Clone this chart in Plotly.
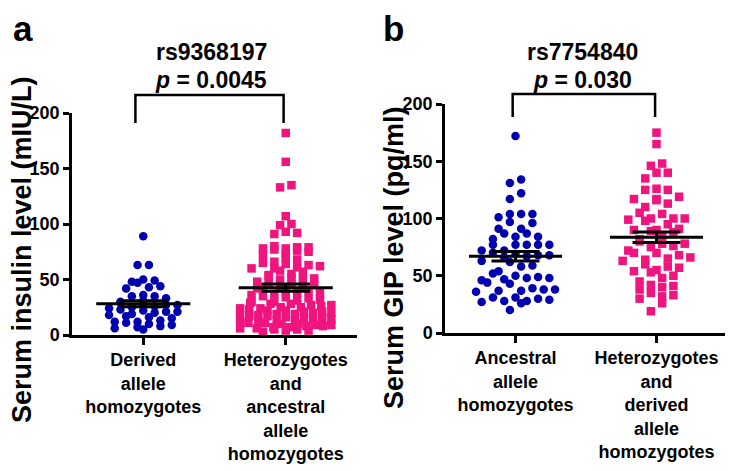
import numpy as np
import plotly.graph_objects as go

# ---------------- data ----------------
categories_a = ["Derived<br>allele<br>homozygotes",
                "Heterozygotes<br>and<br>ancestral<br>allele<br>homozygotes"]
categories_b = ["Ancestral<br>allele<br>homozygotes",
                "Heterozygotes<br>and<br>derived<br>allele<br>homozygotes"]

insulin_derived = [89, 63, 63, 50, 49, 47, 48, 44, 42, 43, 36, 35, 35, 33, 31, 30, 29, 28,
                   27, 27, 26, 25, 24, 23, 22, 21, 21, 20, 19, 18, 17, 16, 15, 13, 12, 12,
                   11, 10, 9, 8, 7, 6, 5]
insulin_het_anc = [182, 156, 135, 133, 107, 100, 99, 93, 92, 91,
                   80, 79, 79, 78, 78, 77, 76, 75, 73, 72, 70, 68,
                   66, 65, 64, 63, 62, 61, 60, 60,
                   58, 57, 55, 54, 53, 52, 51, 50, 50,
                   48, 47, 46, 45, 44, 43, 42, 41, 40, 40,
                   39, 38, 37, 36, 35, 34, 33, 32, 31, 30, 30,
                   29, 28, 27, 26, 25, 24, 23, 22, 21, 20, 20, 21,
                   19, 18, 17, 16, 15, 14, 13, 12, 11, 10, 10, 12,
                   9, 8, 7, 6, 5, 4, 3, 9, 7, 5,
                   25, 22, 18, 15, 14, 11, 8, 6, 4, 27, 24, 17, 13, 28, 19]
gip_ancestral = [172, 134, 131, 122, 117, 104, 104, 104, 101, 97, 96, 91, 91, 87, 87, 84,
                 84, 82, 77, 77, 77, 77, 77, 72, 72, 70, 69, 68, 68, 67, 66, 63, 62, 59,
                 58, 54, 52, 50, 49, 48, 48, 47, 46, 44, 43, 39, 38, 38, 37, 37, 36, 31,
                 30, 29, 28, 28, 27, 26, 31, 20]
gip_het_der = [175, 165, 148, 146, 140, 140, 135, 126, 125, 125, 119, 117, 117, 116, 113,
               110, 105, 104, 100, 100, 100, 99, 98, 95, 91, 90, 90, 89, 88, 85, 82, 80,
               78, 78, 76, 75, 72, 70, 70, 68, 66, 65, 64, 63, 60, 58, 57, 55, 54, 53, 50,
               48, 45, 42, 41, 40, 38, 35, 33, 32, 30, 26, 19]

y_ticks = [0, 50, 100, 150, 200]
snp_a, p_a = "rs9368197", "0.0045"
snp_b, p_b = "rs7754840", "0.030"
ytitle_a = "Serum insulin level (mIU/L)"
ytitle_b = "Serum GIP level (pg/ml)"

BLUE = "#0000B0"
PINK = "#F0147F"
FONT = "Arial, Liberation Sans, sans-serif"
W, H = 733, 471
OFF = 8  # the page body adds an 8 px margin; lay out in target-picture pixels


def fx(p):
    return (p - OFF) / W


def fy(p):
    return 1 - (p - OFF) / H


DOM_XA = [fx(72), fx(357)]
DOM_YA = [fy(335), fy(113)]
DOM_XB = [fx(445), fx(727)]
DOM_YB = [fy(333), fy(104)]
XR = [-0.5, 1.5]


def swarm_offsets(vals, bin_w, step, max_half):
    """Deterministic Prism-like column scatter: bin by value, spread each bin."""
    vals = np.asarray(vals, float)
    bins = np.floor(vals / bin_w).astype(int)
    offs = np.zeros(len(vals))
    for b in np.unique(bins):
        idx = np.where(bins == b)[0]
        idx = idx[np.argsort(vals[idx], kind="stable")]
        n = len(idx)
        s = step if n < 2 or (n - 1) * step / 2 <= max_half else 2 * max_half / (n - 1)
        pos = [(k - (n - 1) / 2) * s for k in range(n)]
        order = list(range(0, n, 2)) + list(range(1, n, 2))[::-1]
        for k, i in zip(order, idx):
            offs[i] = pos[k]
    return offs


fig = go.Figure()


def add_group(vals, center, symbol, color, xa, ya, bin_w, max_half):
    vals = np.asarray(vals, float)
    x = center + swarm_offsets(vals, bin_w, 0.08, max_half)
    fig.add_trace(go.Scatter(x=x, y=vals, mode="markers", xaxis=xa, yaxis=ya,
                             marker=dict(symbol=symbol, size=8.5, color=color,
                                         line=dict(width=0)),
                             cliponaxis=False, hoverinfo="y", showlegend=False))
    m = vals.mean()
    sem = vals.std(ddof=1) / np.sqrt(len(vals))
    line = dict(color="black", width=3)
    for xs, ys in [([center - 0.33, center + 0.33], [m, m]),
                   ([center - 0.17, center + 0.17], [m + sem, m + sem]),
                   ([center - 0.17, center + 0.17], [m - sem, m - sem]),
                   ([center, center], [m - sem, m + sem])]:
        fig.add_trace(go.Scatter(x=xs, y=ys, mode="lines", line=line, xaxis=xa, yaxis=ya,
                                 hoverinfo="skip", showlegend=False, cliponaxis=False))


add_group(insulin_derived, 0, "circle", BLUE, "x", "y", 6, 0.27)
add_group(insulin_het_anc, 1, "square", PINK, "x", "y", 6, 0.32)
add_group(gip_ancestral, 0, "circle", BLUE, "x2", "y2", 9, 0.28)
add_group(gip_het_der, 1, "square", PINK, "x2", "y2", 9, 0.28)

axis_common = dict(showline=True, linecolor="black", linewidth=2.5, ticks="outside",
                   tickwidth=2.5, tickcolor="black", showgrid=False, zeroline=False,
                   automargin=False,
                   tickfont=dict(family=FONT, size=18, color="black", weight="bold"))

fig.update_layout(
    template="none",
    width=W, height=H, margin=dict(l=0, r=0, t=0, b=0, pad=0, autoexpand=False),
    paper_bgcolor="white", plot_bgcolor="white", showlegend=False,
    xaxis=dict(domain=DOM_XA, range=XR, tickvals=[0, 1],
               ticktext=categories_a, ticklen=7, anchor="y", **axis_common),
    yaxis=dict(domain=DOM_YA, range=[0, 200], tickvals=y_ticks,
               ticklen=6, anchor="x", **axis_common),
    xaxis2=dict(domain=DOM_XB, range=XR, tickvals=[0, 1],
                ticktext=categories_b, ticklen=7, anchor="y2", **axis_common),
    yaxis2=dict(domain=DOM_YB, range=[0, 200], tickvals=y_ticks,
                ticklen=6, anchor="x2", **axis_common),
)


def xpaper(dom, xv):
    return dom[0] + (xv - XR[0]) / (XR[1] - XR[0]) * (dom[1] - dom[0])


# significance brackets (paper coords so they are not clipped)
for dom, top_px, bot_px, x0, x1 in [(DOM_XA, 95, 123, -0.055, 0.985),
                                    (DOM_XB, 94, 117, -0.02, 0.99)]:
    xa0, xa1 = xpaper(dom, x0), xpaper(dom, x1)
    yt, yb = fy(top_px), fy(bot_px)
    fig.add_shape(type="path", xref="paper", yref="paper",
                  path=f"M {xa0} {yb} L {xa0} {yt} L {xa1} {yt} L {xa1} {yb}",
                  line=dict(color="black", width=2.5))

bold = dict(family=FONT, color="black", weight="bold")
ann = []
for txt, x in [("a", 23), ("b", 393)]:
    ann.append(dict(text=txt, x=fx(x), y=1.0, xref="paper", yref="paper",
                    showarrow=False, xanchor="center", yanchor="top",
                    borderpad=0, font=dict(size=35, **bold)))
for txt, x, y in [(snp_a, 211, 52), (f"<i>p</i> = {p_a}", 211, 80),
                  (snp_b, 582, 52), (f"<i>p</i> = {p_b}", 582, 80)]:
    ann.append(dict(text=txt, x=fx(x), y=fy(y), xref="paper", yref="paper",
                    showarrow=False, xanchor="center", yanchor="middle",
                    font=dict(size=23, **bold)))
for txt, x, y in [(ytitle_a, 22, 250), (ytitle_b, 394, 258)]:
    ann.append(dict(text=txt, x=fx(x), y=fy(y), xref="paper", yref="paper",
                    showarrow=False, textangle=-90, xanchor="center", yanchor="middle",
                    borderpad=0, font=dict(size=27, **bold)))
fig.update_layout(annotations=ann)

fig.write_html("out.html")
